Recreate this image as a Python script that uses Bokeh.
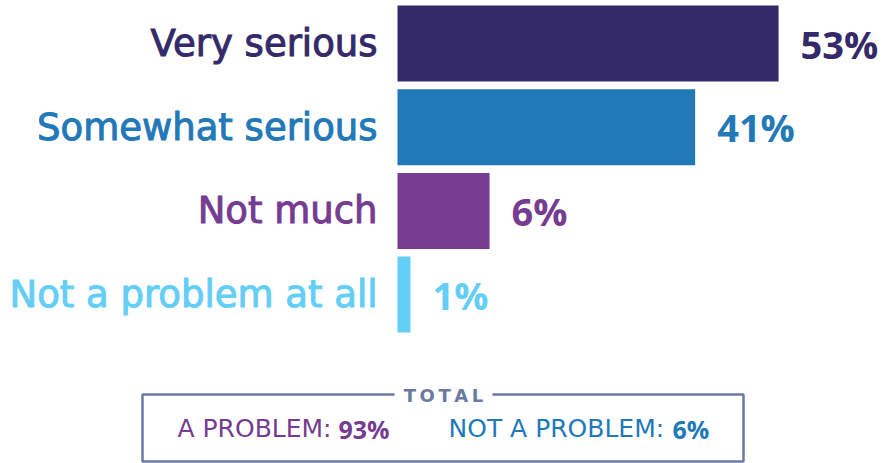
from bokeh.plotting import figure
from bokeh.models import Range1d
from bokeh.core.properties import value
from bokeh.embed import file_html
from bokeh.resources import INLINE

categories = ["Very serious", "Somewhat serious", "Not much", "Not a problem at all"]
shares = [53, 41, 6, 1]                 # printed values (%)
bar_lengths = [53, 41.4, 12.8, 1.8]     # drawn bar lengths
colors = ["#342A69", "#2279B8", "#753C91", "#63CEF6"]
value_labels = [f"{v}%" for v in shares]

total_title = "TOTAL"
total_labels = ["A PROBLEM:", "NOT A PROBLEM:"]
total_values = [93, 6]
total_colors = ["#753C91", "#2279B8"]
box_color = "#6B79A3"

LABEL_FONT = "DejaVu Sans"
VALUE_FONT = "Open Sans"
W, H = 889, 463

# layout (pixel positions)
px_per_unit = 7.19
zero_px = 397
row_top, row_step, bar_h = 43, 83.7, 76

p = figure(width=W, height=H, output_backend="svg", toolbar_location=None,
           x_axis_type=None, y_axis_type=None, min_border=0,
           x_range=Range1d(-zero_px / px_per_unit, (W - zero_px) / px_per_unit),
           y_range=Range1d(H, 0))
p.extra_x_ranges = {"px": Range1d(0, W)}
p.outline_line_color = None
p.grid.visible = False
p.background_fill_color = "white"
p.border_fill_color = "white"

ys = [row_top + i * row_step for i in range(len(categories))]

p.hbar(y=ys, left=0, right=bar_lengths, height=bar_h, color=colors, line_color=None)

p.text(x=[0] * len(categories), y=ys, text=categories, x_offset=-20,
       text_align="right", text_baseline="middle", text_color=colors,
       text_outline_color=colors,
       text_font=value(LABEL_FONT), text_font_size="37px")

p.text(x=bar_lengths, y=ys, text=value_labels, x_offset=22,
       text_align="left", text_baseline="middle", text_color=colors,
       text_font=value(VALUE_FONT), text_font_size="38px", text_font_style="bold")

# TOTAL box
bl, br, bt, bb = 142, 743, 394, 461
gap_l, gap_r = 394, 492
p.line(x=[gap_l, bl, bl, br, br, gap_r], y=[bt, bt, bb, bb, bt, bt],
       x_range_name="px", line_color=box_color, line_width=2.5)
p.text(x=[443], y=[bt + 1], text=["\u2009".join(total_title)], x_range_name="px",
       text_align="center", text_baseline="middle", text_color=box_color,
       text_font=value(LABEL_FONT), text_font_size="18px", text_font_style="bold")

label_start = [177, 448]
label_end = [333, 667]
p.text(x=label_start, y=[428, 428], text=total_labels, x_range_name="px",
       text_align="left", text_baseline="middle", text_color=total_colors,
       text_font=value(LABEL_FONT), text_font_size="25px")
p.text(x=[e + 5 for e in label_end], y=[428, 428], text=[f"{v}%" for v in total_values],
       x_range_name="px", text_align="left", text_baseline="middle", text_color=total_colors,
       text_font=value(VALUE_FONT), text_font_size="25px", text_font_style="bold")

open("out.html", "w").write(file_html(p, INLINE))
